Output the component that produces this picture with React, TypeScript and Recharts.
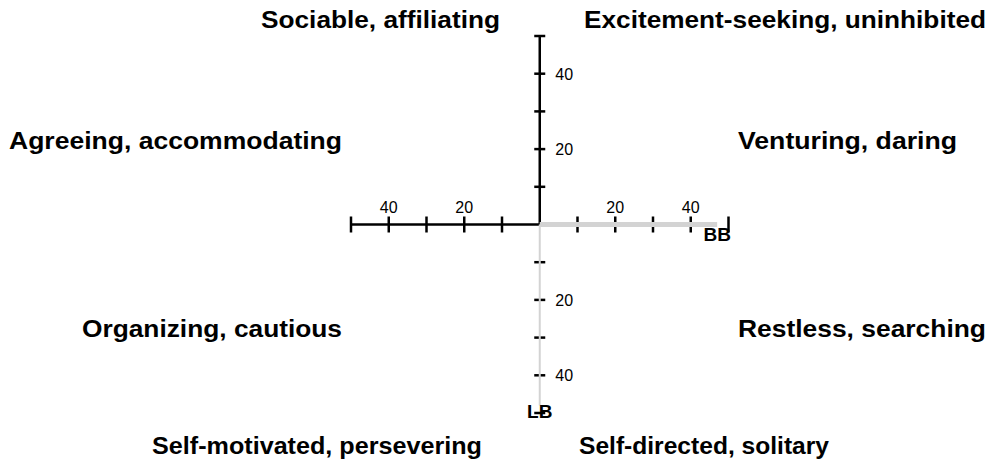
import React from "react";
import { ScatterChart, Scatter, XAxis, YAxis } from "recharts";

// scores along each dimension
const BB = 47;
const LB = 48;

const hTicks = [-50, -40, -30, -20, -10, 10, 20, 30, 40, 50];
const vTicks = [50, 40, 30, 20, 10, -10, -20, -30, -40, -50];
const hTickLabels = [-40, -20, 20, 40];
const vTickLabels = [40, 20, -20, -40];

const quadrantLabels = [
  { text: "Sociable, affiliating", x: 261, y: 28, w: 239 },
  { text: "Excitement-seeking, uninhibited", x: 584, y: 28, w: 402 },
  { text: "Agreeing, accommodating", x: 9, y: 149, w: 333 },
  { text: "Venturing, daring", x: 738, y: 149, w: 219 },
  { text: "Organizing, cautious", x: 82, y: 337, w: 260 },
  { text: "Restless, searching", x: 738, y: 337, w: 248 },
  { text: "Self-motivated, persevering", x: 152, y: 454, w: 330 },
  { text: "Self-directed, solitary", x: 579, y: 454, w: 250 },
];

const FONT = "Arial, 'Liberation Sans', sans-serif";
const none = () => <g />;

export default function App() {
  const leftAxis = [{ x: -50, y: 0 }, { x: 0, y: 0 }];
  const topAxis = [{ x: 0, y: 0 }, { x: 0, y: 50 }];
  const bbLine = [{ x: 0, y: 0 }, { x: BB, y: 0 }];
  const lbLine = [{ x: 0, y: 0 }, { x: 0, y: -LB }];
  const hTickData = hTicks.map((v) => ({ x: v, y: 0 }));
  const vTickData = vTicks.map((v) => ({ x: 0, y: v }));
  const hLabelData = hTickLabels.map((v) => ({ x: v, y: 0, label: Math.abs(v) }));
  const vLabelData = vTickLabels.map((v) => ({ x: 0, y: v, label: Math.abs(v) }));

  return (
    <div style={{ position: "absolute", left: 0, top: 0 }}>
      <ScatterChart
        width={994}
        height={462}
        margin={{ top: 36, right: 265.5, bottom: 49, left: 351 }}
      >
        <XAxis type="number" dataKey="x" domain={[-50, 50]} hide />
        <YAxis type="number" dataKey="y" domain={[-50, 50]} hide />

        <Scatter data={leftAxis} line={{ stroke: "#000", strokeWidth: 2.5 }} shape={none} isAnimationActive={false} />
        <Scatter data={topAxis} line={{ stroke: "#000", strokeWidth: 2.5 }} shape={none} isAnimationActive={false} />

        <Scatter
          data={hTickData}
          isAnimationActive={false}
          shape={(p: any) => (
            <line x1={p.cx} x2={p.cx} y1={p.cy - 8} y2={p.cy + 8} stroke="#000" strokeWidth={2.5} />
          )}
        />
        <Scatter
          data={vTickData}
          isAnimationActive={false}
          shape={(p: any) => (
            <line x1={p.cx - 5.5} x2={p.cx + 5.5} y1={p.cy} y2={p.cy} stroke="#000" strokeWidth={2.5} />
          )}
        />

        <Scatter data={bbLine} line={{ stroke: "#d3d3d3", strokeWidth: 5 }} shape={none} isAnimationActive={false} />
        <Scatter data={lbLine} line={{ stroke: "#d3d3d3", strokeWidth: 2 }} shape={none} isAnimationActive={false} />

        <Scatter
          data={hLabelData}
          isAnimationActive={false}
          shape={(p: any) => (
            <text x={p.cx} y={p.cy - 12} textAnchor="middle" fontSize={16} fontFamily={FONT} fill="#000">
              {p.payload.label}
            </text>
          )}
        />
        <Scatter
          data={vLabelData}
          isAnimationActive={false}
          shape={(p: any) => (
            <text x={p.cx + 15.5} y={p.cy + 6} fontSize={16} fontFamily={FONT} fill="#000">
              {p.payload.label}
            </text>
          )}
        />

        <Scatter
          data={[{ x: BB, y: 0 }]}
          isAnimationActive={false}
          shape={(p: any) => (
            <text x={p.cx} y={p.cy + 16} textAnchor="middle" fontSize={19} fontWeight="bold" fontFamily={FONT} fill="#000">
              BB
            </text>
          )}
        />
        <Scatter
          data={[{ x: 0, y: -LB }]}
          isAnimationActive={false}
          shape={(p: any) => (
            <text x={p.cx} y={p.cy + 13} textAnchor="middle" fontSize={19} fontWeight="bold" fontFamily={FONT} fill="#000">
              LB
            </text>
          )}
        />

        {quadrantLabels.map((l) => (
          <text
            key={l.text}
            x={l.x}
            y={l.y}
            textLength={l.w}
            lengthAdjust="spacingAndGlyphs"
            fontSize={23.5}
            fontWeight="bold"
            fontFamily={FONT}
            fill="#000"
          >
            {l.text}
          </text>
        ))}
      </ScatterChart>
    </div>
  );
}
